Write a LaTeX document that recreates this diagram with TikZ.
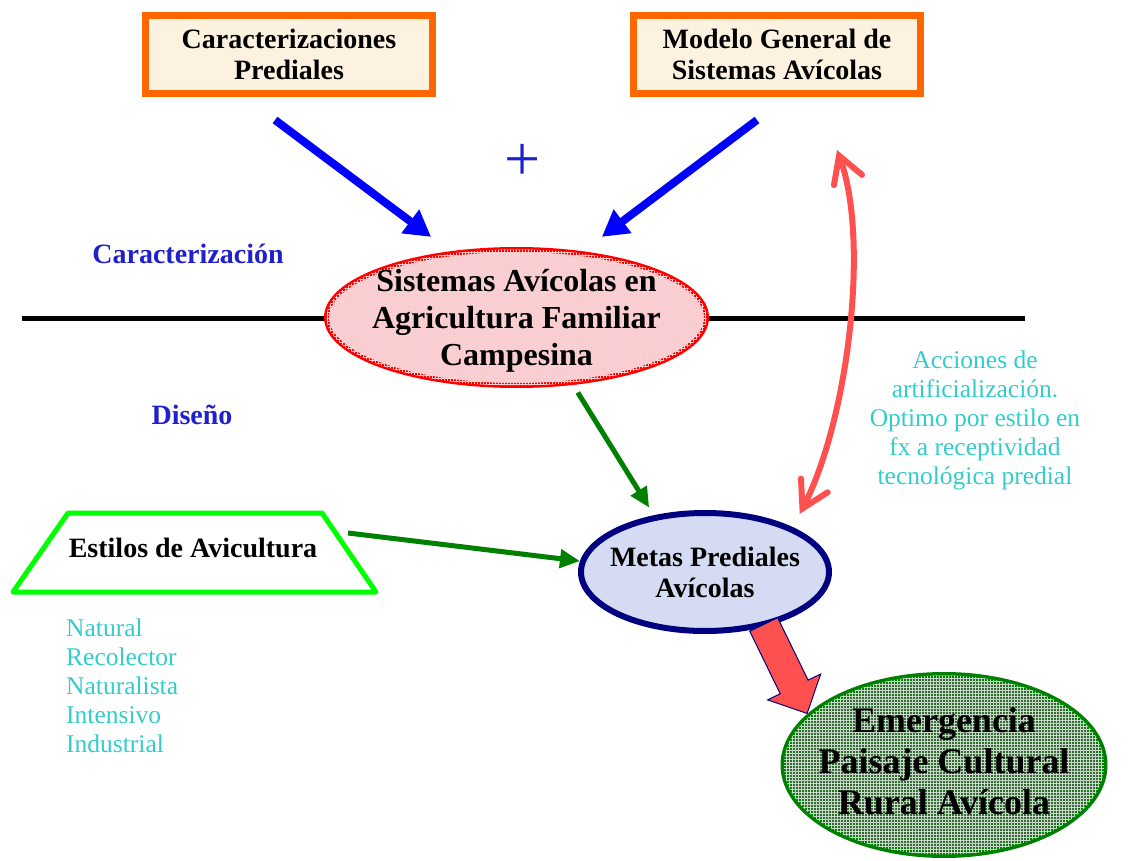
\documentclass[tikz,border=0pt]{standalone}
\usepackage{fontspec}
\setmainfont{Liberation Serif}
\usepackage{tikz}
\usetikzlibrary{shapes.geometric,shapes.arrows,arrows.meta,patterns}

\definecolor{naranjo}{HTML}{FF6600}
\definecolor{crema}{HTML}{FDF2DF}
\definecolor{azul}{HTML}{0000FF}
\definecolor{azultexto}{HTML}{2020CC}
\definecolor{rosado}{HTML}{F6D2D6}
\definecolor{verde}{HTML}{008000}
\definecolor{verdeclaro}{HTML}{00FF00}
\definecolor{rojoclaro}{HTML}{FF5050}
\definecolor{celeste}{HTML}{33CCCC}
\definecolor{marino}{HTML}{000080}
\definecolor{lila}{HTML}{D5DBF3}
\definecolor{pasto}{HTML}{356A35}
\definecolor{reja}{HTML}{C8D8C8}

\begin{document}
\begin{tikzpicture}[x=1pt, y=-1pt,
    caja/.style={draw=naranjo, line width=7pt, fill=crema, minimum width=287, minimum height=78,
        align=center, font=\fontsize{28}{31}\selectfont\bfseries},
    etapa/.style={text=azultexto, font=\fontsize{28}{30}\selectfont\bfseries},
    nota/.style={text=celeste, font=\fontsize{25.5}{29}\selectfont},
    flechaazul/.style={azul, line width=8pt, -{Triangle[length=26pt, width=28pt]}},
    flechaverde/.style={verde, line width=5pt, -{Triangle[length=20pt, width=18pt]}},
    punta/.tip={Straight Barb[length=26pt, width=30pt, line cap=round]}]
    \useasboundingbox (0,0) rectangle (1128,861);

    \coordinate (izq) at (22,319);
    \coordinate (der) at (1025,319);
    \draw[line width=5pt] (izq) -- (der);

    \node[caja] (caract) at (289,54.5) {Caracterizaciones\\Prediales};
    \node[caja] (modelo) at (777,54.5) {Modelo General de\\Sistemas Avícolas};
    \node[text=azultexto, font=\fontsize{64}{64}\selectfont] (mas) at (523,162) {+};

    \node[etapa] (caracterizacion) at (188,254) {Caracterización};
    \node[etapa] (diseno) at (192,415) {Diseño};

    \node[ellipse, draw=red, line width=5pt, fill=rosado,
        postaction={pattern=grid, pattern color=rosado!80!red!60!white},
        minimum width=380, minimum height=136, inner xsep=-25pt, inner ysep=-10pt, text depth=-20pt,
        align=center, font=\fontsize{32}{37}\selectfont\bfseries] (sistemas) at (516.5,317.5)
        {Sistemas Avícolas en\\Agricultura Familiar\\Campesina};

    % trapecio de estilos
    \coordinate (t1) at (68,513);
    \coordinate (t2) at (322,513);
    \coordinate (t3) at (376,592);
    \coordinate (t4) at (13,592);
    \draw[verdeclaro, line width=5pt, line join=round] (t1) -- (t2) -- (t3) -- (t4) -- cycle;
    \node[font=\fontsize{28}{30}\selectfont\bfseries] (estilos) at (193,548) {Estilos de Avicultura};
    \coordinate (salida) at (348,533);
    \node[nota, anchor=west, align=left, inner xsep=0] (lista) at (66,686)
        {Natural\\Recolector\\Naturalista\\Intensivo\\Industrial};

    \node[ellipse, draw=marino, line width=6pt, fill=lila, minimum width=248, minimum height=118,
        inner xsep=-15pt, inner ysep=0, align=center, font=\fontsize{28}{31}\selectfont\bfseries] (metas) at (705,572)
        {Metas Prediales\\Avícolas};

    \node[ellipse, draw=verde, line width=7pt, fill=pasto,
        postaction={pattern=grid, pattern color=reja},
        minimum width=320, minimum height=179, inner xsep=-15pt, inner ysep=-5pt, text depth=8pt,
        align=center, font=\fontsize{36}{41}\selectfont\bfseries] (emergencia) at (944,765)
        {Emergencia\\Paisaje Cultural\\Rural Avícola};

    \node[nota, align=center] (acciones) at (975,420)
        {Acciones de\\artificialización.\\Optimo por estilo en\\fx a receptividad\\tecnológica predial};

    \coordinate (desde1) at (275,120);
    \coordinate (desde2) at (757,120);
    \draw[flechaazul, shorten >=24pt] (desde1) -- (sistemas.135);
    \draw[flechaazul, shorten >=24pt] (desde2) -- (sistemas.45);

    \draw[flechaverde, shorten <=9pt, shorten >=9pt] (sistemas.-50) -- (metas.132);
    \draw[flechaverde] (salida) -- (metas.175);

    \coordinate (tope) at (837,150);
    \draw[rojoclaro, line width=6pt, line cap=round, shorten <=15pt, punta-punta]
        (metas.27) .. controls (848,420) and (870,240) .. (tope);

    \node[single arrow, draw=marino, line width=1pt, fill=rojoclaro, inner sep=15pt,
        minimum height=99, single arrow head extend=14pt, rotate=-64] (flecha) at (782,662) {};
\end{tikzpicture}
\end{document}
